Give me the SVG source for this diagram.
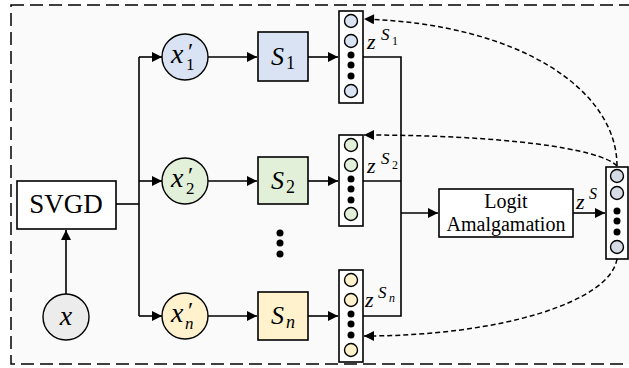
<svg xmlns="http://www.w3.org/2000/svg" width="629" height="368" viewBox="0 0 629 368">
<defs>
<style>
.ln{fill:none;stroke:#000;stroke-width:1.6}
.dl{fill:none;stroke:#000;stroke-width:1.5;stroke-dasharray:5 3}
.bx{stroke:#000;stroke-width:1.6}
.vc{fill:#fff;stroke:#000;stroke-width:1.6}
.c{stroke:#000;stroke-width:1.4}
.blue{fill:#dae3f3}.green{fill:#e2f0d9}.yel{fill:#fff2cc}.gray{fill:#ececec}.slate{fill:#d6dce5}
</style>
<marker id="ah" viewBox="0 0 10 10" refX="10" refY="5" markerWidth="11" markerHeight="10" markerUnits="userSpaceOnUse" orient="auto">
<path d="M0,0 L10,5 L0,10 Z" fill="#000"/>
</marker>
<g id="dots3">
<circle cx="0" cy="0" r="3.5" fill="#000"/>
<circle cx="0" cy="10" r="3.5" fill="#000"/>
<circle cx="0" cy="21" r="3.5" fill="#000"/>
</g>
</defs>
<rect x="11" y="5" width="630" height="359" fill="#fafafa" stroke="#000" stroke-width="1.5" stroke-dasharray="13 6"/>

<g id="connectors">
<path class="ln" d="M66,294 V230" marker-end="url(#ah)"/>
<path class="ln" d="M116,204 H139"/>
<path class="ln" d="M139,57 V316"/>
<path class="ln" d="M139,57 H162" marker-end="url(#ah)"/>
<path class="ln" d="M139,181 H162" marker-end="url(#ah)"/>
<path class="ln" d="M139,316 H162" marker-end="url(#ah)"/>
<path class="ln" d="M208,57 H257" marker-end="url(#ah)"/>
<path class="ln" d="M208,181 H257" marker-end="url(#ah)"/>
<path class="ln" d="M208,316 H257" marker-end="url(#ah)"/>
<path class="ln" d="M308,57 H338" marker-end="url(#ah)"/>
<path class="ln" d="M308,181 H338" marker-end="url(#ah)"/>
<path class="ln" d="M308,316 H338" marker-end="url(#ah)"/>
<path class="ln" d="M363,57 H401 V316 H363"/>
<path class="ln" d="M363,181 H401"/>
<path class="ln" d="M401,213 H438" marker-end="url(#ah)"/>
<path class="ln" d="M573,213 H605" marker-end="url(#ah)"/>
<path class="dl" d="M617,166 C617,90 520,24 364,19" marker-end="url(#ah)"/>
<path class="dl" d="M617,166 C600,148 500,135 364,135" marker-end="url(#ah)"/>
<path class="dl" d="M617,259 C610,302 500,336 364,336" marker-end="url(#ah)"/>
</g>

<g id="x">
<circle class="c gray" cx="66" cy="317" r="23"/>
<text x="66" y="325" font-family="Liberation Serif, serif" font-style="italic" font-size="28" text-anchor="middle">x</text>
</g>

<g id="svgd">
<rect class="bx" x="17" y="181" width="99" height="48" fill="#fff"/>
<text x="66" y="213" font-family="Liberation Serif, serif" font-size="27" text-anchor="middle">SVGD</text>
</g>

<g id="x1">
<circle class="c blue" cx="185" cy="57" r="23"/>
<text font-family="Liberation Serif, serif" font-style="italic"><tspan x="171" y="63" font-size="28">x</tspan><tspan x="188" y="59" font-size="24" font-style="normal">′</tspan><tspan x="186" y="70" font-size="17" font-style="normal">1</tspan></text>
</g>
<g id="x2">
<circle class="c green" cx="185" cy="181" r="23"/>
<text font-family="Liberation Serif, serif" font-style="italic"><tspan x="171" y="187" font-size="28">x</tspan><tspan x="188" y="183" font-size="24" font-style="normal">′</tspan><tspan x="186" y="194" font-size="17" font-style="normal">2</tspan></text>
</g>
<g id="xn">
<circle class="c yel" cx="185" cy="316" r="23"/>
<text font-family="Liberation Serif, serif" font-style="italic"><tspan x="171" y="322" font-size="28">x</tspan><tspan x="188" y="318" font-size="24" font-style="normal">′</tspan><tspan x="185" y="329" font-size="17">n</tspan></text>
</g>

<g id="s1">
<rect class="bx blue" x="258" y="32" width="50" height="49"/>
<text font-family="Liberation Serif, serif" font-style="italic"><tspan x="271" y="65" font-size="26">S</tspan><tspan x="286" y="69" font-size="18" font-style="normal">1</tspan></text>
</g>
<g id="s2">
<rect class="bx green" x="258" y="157" width="50" height="47"/>
<text font-family="Liberation Serif, serif" font-style="italic"><tspan x="271" y="189" font-size="26">S</tspan><tspan x="286" y="193" font-size="18" font-style="normal">2</tspan></text>
</g>
<g id="ellipsis">
<use href="#dots3" x="280" y="233"/>
</g>
<g id="sn">
<rect class="bx yel" x="258" y="292" width="50" height="48"/>
<text font-family="Liberation Serif, serif" font-style="italic"><tspan x="271" y="324" font-size="26">S</tspan><tspan x="286" y="328" font-size="18">n</tspan></text>
</g>

<g id="zs1">
<rect class="vc" x="339" y="11" width="24" height="92"/>
<circle class="c blue" cx="351" cy="21" r="6.5"/>
<circle class="c blue" cx="351" cy="41" r="6.5"/>
<use href="#dots3" x="351" y="55"/>
<circle class="c blue" cx="351" cy="91" r="6.5"/>
<text font-family="Liberation Serif, serif" font-style="italic"><tspan x="367" y="49" font-size="22">z</tspan><tspan x="381" y="40" font-size="17">S</tspan><tspan x="392" y="45" font-size="12" font-style="normal">1</tspan></text>
</g>
<g id="zs2">
<rect class="vc" x="339" y="135" width="24" height="91"/>
<circle class="c green" cx="351" cy="145" r="6.5"/>
<circle class="c green" cx="351" cy="165" r="6.5"/>
<use href="#dots3" x="351" y="179"/>
<circle class="c green" cx="351" cy="214" r="6.5"/>
<text font-family="Liberation Serif, serif" font-style="italic"><tspan x="367" y="173" font-size="22">z</tspan><tspan x="381" y="164" font-size="17">S</tspan><tspan x="392" y="169" font-size="12" font-style="normal">2</tspan></text>
</g>
<g id="zsn">
<rect class="vc" x="339" y="270" width="24" height="92"/>
<circle class="c yel" cx="351" cy="280" r="6.5"/>
<circle class="c yel" cx="351" cy="300" r="6.5"/>
<use href="#dots3" x="351" y="314"/>
<circle class="c yel" cx="351" cy="350" r="6.5"/>
<text font-family="Liberation Serif, serif" font-style="italic"><tspan x="365" y="307" font-size="22">z</tspan><tspan x="378" y="298" font-size="17">S</tspan><tspan x="389" y="302" font-size="12">n</tspan></text>
</g>

<g id="logit">
<rect class="bx" x="439" y="189" width="134" height="48" fill="#fff"/>
<text x="506" y="208" font-family="Liberation Serif, serif" font-size="20" text-anchor="middle">Logit</text>
<text x="506" y="231" font-family="Liberation Serif, serif" font-size="20" text-anchor="middle">Amalgamation</text>
</g>

<g id="zs">
<rect class="vc" x="606" y="167" width="22" height="92"/>
<circle class="c slate" cx="617" cy="176" r="6.5"/>
<circle class="c slate" cx="617" cy="193" r="6.5"/>
<use href="#dots3" x="617" y="211"/>
<circle class="c slate" cx="617" cy="247" r="6.5"/>
<text font-family="Liberation Serif, serif" font-style="italic"><tspan x="576" y="209" font-size="22">z</tspan><tspan x="589" y="199" font-size="16">S</tspan></text>
</g>
</svg>
